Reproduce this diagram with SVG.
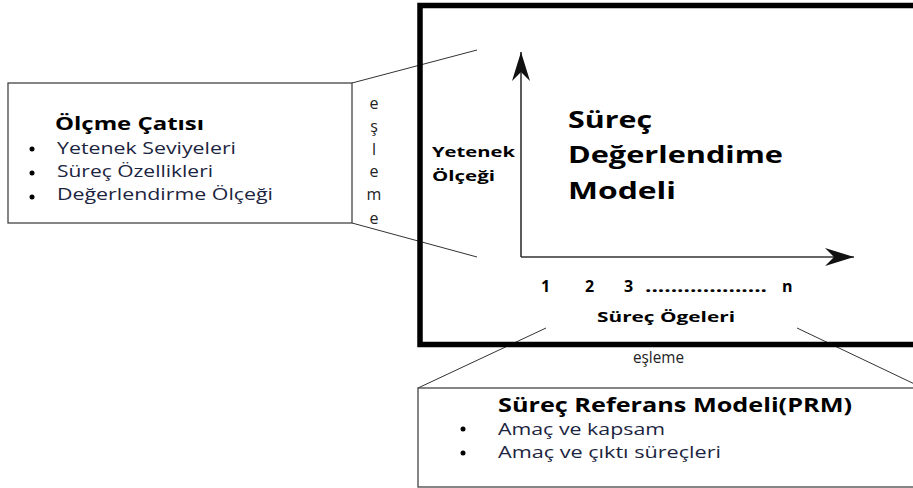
<svg xmlns="http://www.w3.org/2000/svg" width="913" height="488" viewBox="0 0 913 488">
  <style>
    .box { fill: #fff; stroke: #444; stroke-width: 1.3; }
    .frame { fill: none; stroke: #000; stroke-width: 5.5; }
    .link { fill: none; stroke: #333; stroke-width: 1; }
    .axis { fill: none; stroke: #333; stroke-width: 1.6; }
    .title { font-family: "Open Sans", "Noto Sans", sans-serif; font-weight: bold; fill: #000; }
    .item { font-family: "Open Sans", "Noto Sans", sans-serif; font-size: 16px; fill: #1b2440; }
    .label { font-family: "Open Sans", "Noto Sans", sans-serif; font-size: 16px; fill: #222; }
    .dot { fill: #000; }
  </style>
  <defs>
    <marker id="arrow-head" markerUnits="userSpaceOnUse" viewBox="-30 -10 31 20" refX="0" refY="0" markerWidth="31" markerHeight="20" orient="auto">
      <path d="M0,0 L-29,-9 L-20,0 L-29,9 Z" fill="#111"/>
    </marker>
  </defs>

  <rect width="913" height="488" fill="#fff"/>

  <!-- connectors between the frames -->
  <g id="connectors">
    <line class="link" x1="352" y1="83" x2="477" y2="50"/>
    <line class="link" x1="352" y1="223" x2="477" y2="257"/>
    <line class="link" x1="546" y1="328" x2="418" y2="388"/>
    <line class="link" x1="797" y1="328" x2="925" y2="389"/>
  </g>

  <!-- measurement framework -->
  <g id="measurement-framework">
    <rect class="box" x="8" y="83" width="344" height="140"/>
    <text class="title" x="55" y="130" font-size="18" textLength="149" lengthAdjust="spacingAndGlyphs">Ölçme Çatısı</text>
    <circle class="dot" cx="32" cy="149" r="2.5"/>
    <circle class="dot" cx="32" cy="173" r="2.5"/>
    <circle class="dot" cx="32" cy="197" r="2.5"/>
    <text class="item" x="57" y="154" textLength="179" lengthAdjust="spacingAndGlyphs">Yetenek Seviyeleri</text>
    <text class="item" x="57" y="177" textLength="156" lengthAdjust="spacingAndGlyphs">Süreç Özellikleri</text>
    <text class="item" x="57" y="200" textLength="216" lengthAdjust="spacingAndGlyphs">Değerlendirme Ölçeği</text>
  </g>

  <!-- vertical mapping label -->
  <g id="mapping-vertical" class="label" text-anchor="middle">
    <text x="374" y="109">e</text>
    <text x="374" y="132">ş</text>
    <text x="374" y="155">l</text>
    <text x="374" y="177">e</text>
    <text x="374" y="200">m</text>
    <text x="374" y="224">e</text>
  </g>

  <!-- process assessment model -->
  <g id="assessment-model">
    <rect class="frame" x="420" y="5.5" width="510" height="339"/>
    <line class="axis" x1="521" y1="257" x2="521" y2="52" marker-end="url(#arrow-head)"/>
    <line class="axis" x1="521" y1="257" x2="854" y2="257" marker-end="url(#arrow-head)"/>
    <text class="title" x="568" y="128" font-size="24" textLength="84" lengthAdjust="spacingAndGlyphs">Süreç</text>
    <text class="title" x="568" y="163" font-size="24" textLength="215" lengthAdjust="spacingAndGlyphs">Değerlendime</text>
    <text class="title" x="568" y="199" font-size="24" textLength="108" lengthAdjust="spacingAndGlyphs">Modeli</text>
    <text class="title" x="432" y="157" font-size="15" textLength="83" lengthAdjust="spacingAndGlyphs">Yetenek</text>
    <text class="title" x="432" y="181" font-size="15" textLength="63" lengthAdjust="spacingAndGlyphs">Ölçeği</text>
    <text class="title" x="541" y="292" font-size="16">1</text>
    <text class="title" x="585" y="292" font-size="16">2</text>
    <text class="title" x="624" y="292" font-size="16">3</text>
    <text class="title" x="645" y="292" font-size="16" textLength="122" lengthAdjust="spacingAndGlyphs">...................</text>
    <text class="title" x="782" y="292" font-size="16">n</text>
    <text class="title" x="597" y="322" font-size="15" textLength="138" lengthAdjust="spacingAndGlyphs">Süreç Ögeleri</text>
  </g>

  <!-- horizontal mapping label -->
  <text id="mapping-horizontal" class="label" x="633" y="363" textLength="51" lengthAdjust="spacingAndGlyphs">eşleme</text>

  <!-- process reference model -->
  <g id="reference-model">
    <rect class="box" x="418" y="388" width="510" height="99"/>
    <text class="title" x="498" y="412" font-size="20" textLength="354" lengthAdjust="spacingAndGlyphs">Süreç Referans Modeli(PRM)</text>
    <circle class="dot" cx="463" cy="429" r="2.5"/>
    <circle class="dot" cx="463" cy="453" r="2.5"/>
    <text class="item" x="498" y="435" textLength="167" lengthAdjust="spacingAndGlyphs">Amaç ve kapsam</text>
    <text class="item" x="498" y="458" textLength="223" lengthAdjust="spacingAndGlyphs">Amaç ve çıktı süreçleri</text>
  </g>
</svg>
